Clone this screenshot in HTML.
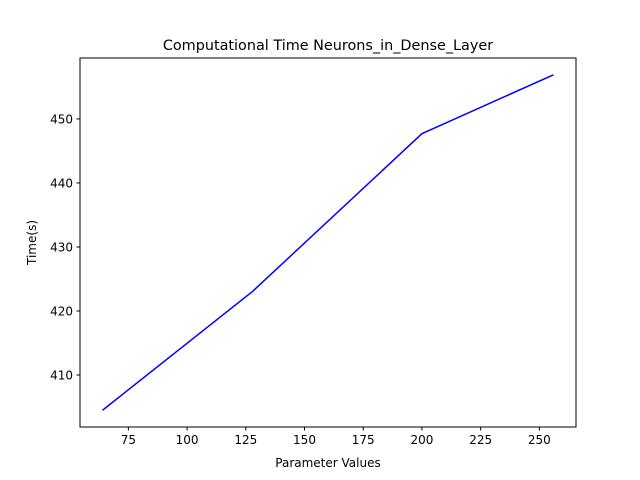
<!DOCTYPE html>
<html><head><meta charset="utf-8"><style>
body{margin:0;background:#fff;}
svg{display:block;font-family:"DejaVu Sans","Liberation Sans",sans-serif;}
</style></head><body>
<svg id="chart" width="640" height="480">
<rect x="0" y="0" width="640" height="480" fill="#fff"></rect>
<text x="328" y="50" text-anchor="middle" font-size="14.4">Computational Time Neurons_in_Dense_Layer</text>
<text x="328" y="467" text-anchor="middle" font-size="12">Parameter Values</text>
<text transform="translate(36,242.5) rotate(-90)" text-anchor="middle" font-size="12">Time(s)</text>
<g id="ticks"></g>
<g id="series"></g>
<rect x="80" y="58" width="496" height="369" fill="none" stroke="#000" stroke-width="1"></rect>
</svg>
<script>
const xValues = [64, 128, 200, 256];
const yValues = [404.5, 423.1, 447.7, 456.9];
const xTicks = [75, 100, 125, 150, 175, 200, 225, 250];
const yTicks = [410, 420, 430, 440, 450];

const L = 80, R = 576, T = 58, B = 427;
const xmin0 = Math.min(...xValues), xmax0 = Math.max(...xValues);
const ymin0 = Math.min(...yValues), ymax0 = Math.max(...yValues);
const xm = (xmax0 - xmin0) * 0.05, ym = (ymax0 - ymin0) * 0.05;
const xmin = xmin0 - xm, xmax = xmax0 + xm, ymin = ymin0 - ym, ymax = ymax0 + ym;
const xs = v => L + (v - xmin) / (xmax - xmin) * (R - L);
const ys = v => B - (v - ymin) / (ymax - ymin) * (B - T);
const NS = 'http://www.w3.org/2000/svg';
const tg = document.getElementById('ticks');
xTicks.forEach(t => {
  const x = xs(t);
  if (x < L - 0.5 || x > R + 0.5) return;
  const l = document.createElementNS(NS, 'line');
  l.setAttribute('x1', x); l.setAttribute('x2', x); l.setAttribute('y1', B); l.setAttribute('y2', B + 3.5);
  l.setAttribute('stroke', '#000');
  
  
  tg.appendChild(l);
  const tx = document.createElementNS(NS, 'text');
  tx.setAttribute('x', x); tx.setAttribute('y', B + 17); tx.setAttribute('text-anchor', 'middle'); tx.setAttribute('font-size', '12');
  tx.textContent = t;
  
  
  tg.appendChild(tx);
});
yTicks.forEach(t => {
  const y = ys(t);
  if (y < T - 0.5 || y > B + 0.5) return;
  const l = document.createElementNS(NS, 'line');
  l.setAttribute('x1', L - 3.5); l.setAttribute('x2', L); l.setAttribute('y1', y); l.setAttribute('y2', y);
  l.setAttribute('stroke', '#000');
  
  
  tg.appendChild(l);
  const tx = document.createElementNS(NS, 'text');
  tx.setAttribute('x', L - 7); tx.setAttribute('y', y + 4.5); tx.setAttribute('text-anchor', 'end'); tx.setAttribute('font-size', '12');
  tx.textContent = t;
  
  
  tg.appendChild(tx);
});
const pl = document.createElementNS(NS, 'polyline');
pl.setAttribute('points', xValues.map((v, i) => xs(v) + ',' + ys(yValues[i])).join(' '));
pl.setAttribute('fill', 'none'); pl.setAttribute('stroke', '#0000ff'); pl.setAttribute('stroke-width', '1.5');


document.getElementById('series').appendChild(pl);
</script>
</body></html>
